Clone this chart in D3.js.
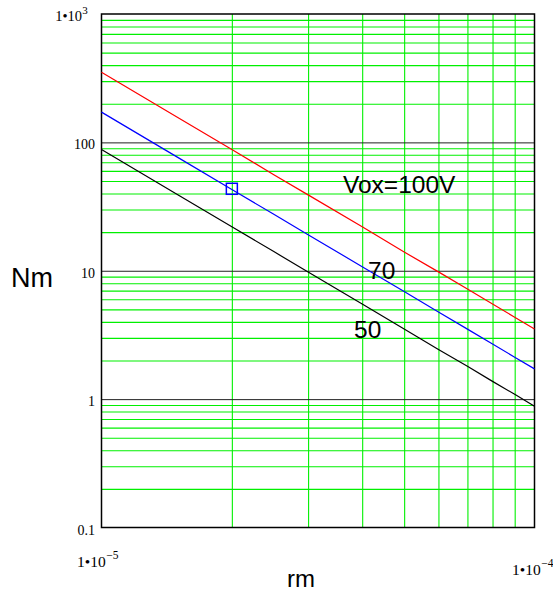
<!DOCTYPE html>
<html>
<head>
<meta charset="utf-8">
<script src="https://cdn.jsdelivr.net/npm/d3@7"></script>
<style>
  html, body { margin: 0; padding: 0; background: #fff; }
  svg { display: block; }
</style>
</head>
<body>
<svg id="chart" width="553" height="595"></svg>
<script>
// ---- data ----
const rValues = [1e-5, 1.5e-5, 2e-5, 2.5e-5, 3e-5, 4e-5, 5e-5, 6e-5, 7e-5, 8e-5, 9e-5, 1e-4];
const nm100 = [352, 156, 88, 56, 39, 22, 14, 9.8, 7.2, 5.5, 4.35, 3.52];
const nm70  = [172, 76.4, 43, 27.5, 19.1, 10.75, 6.88, 4.78, 3.51, 2.69, 2.12, 1.72];
const nm50  = [88, 39.1, 22, 14.1, 9.78, 5.5, 3.52, 2.44, 1.8, 1.375, 1.09, 0.88];
const seriesNames = ["Vox=100V", "70", "50"];
const markerPoint = [2e-5, 43.5];
const yMajorTicks = [0.1, 1, 10, 100, 1000];
const yTickLabels = ["0.1", "1", "10", "100", "1\u202210"];
const yTickSups   = ["", "", "", "", "3"];
const xMajorTicks = [1e-5, 1e-4];
const xTickLabels = ["1\u202210", "1\u202210"];
const xTickSups   = ["\u22125", "\u22124"];
const xTitle = "rm";
const yTitle = "Nm";

// ---- layout ----
const svg = d3.select("#chart");
const L = 101.5, R = 534.5, T = 14, B = 527.5;
const x = d3.scaleLog().domain([1e-5, 1e-4]).range([L, R]);
const y = d3.scaleLog().domain([0.1, 1000]).range([B, T]);

// minor ticks
const yMinor = [];
for (let d = 0.1; d < 1000; d *= 10) for (let k = 2; k <= 9; k++) yMinor.push(+(d * k).toPrecision(3));
const xMinor = [];
for (let k = 2; k <= 9; k++) xMinor.push(+(k * 1e-5).toPrecision(3));

const green = "#00f000";

// green minor horizontal grid using axis
const gy = svg.append("g").attr("transform", `translate(${L},0)`)
  .call(d3.axisLeft(y).tickValues(yMinor).tickSize(-(R - L)).tickFormat(""));
gy.select(".domain").remove();
gy.selectAll(".tick line").attr("stroke", green).attr("stroke-width", 1.1);

// green minor vertical grid
const gx = svg.append("g").attr("transform", `translate(0,${B})`)
  .call(d3.axisBottom(x).tickValues(xMinor).tickSize(-(B - T)).tickFormat(""));
gx.select(".domain").remove();
gx.selectAll(".tick line").attr("stroke", green).attr("stroke-width", 1.1);

// major horizontal grid (dark)
const gyM = svg.append("g").attr("transform", `translate(${L},0)`)
  .call(d3.axisLeft(y).tickValues(yMajorTicks.slice(1, -1)).tickSize(-(R - L)).tickFormat(""));
gyM.select(".domain").remove();
gyM.selectAll(".tick line").attr("stroke", "#222").attr("stroke-width", 1);

// border
svg.append("rect").attr("x", L).attr("y", T).attr("width", R - L).attr("height", B - T)
  .attr("fill", "none").attr("stroke", "#000").attr("stroke-width", 1.5);

// curves
const line = d3.line().x(d => x(d[0])).y(d => y(d[1]));
const series = [
  { vals: nm100, color: "#ff0000" },
  { vals: nm70, color: "#0000ff" },
  { vals: nm50, color: "#000000" }
];
series.forEach(s => {
  svg.append("path")
    .datum(rValues.map((r, i) => [r, s.vals[i]]))
    .attr("d", line).attr("fill", "none")
    .attr("stroke", s.color).attr("stroke-width", 1.2);
});

// marker
svg.append("rect")
  .attr("x", x(markerPoint[0]) - 5.5).attr("y", y(markerPoint[1]) - 5.5)
  .attr("width", 11).attr("height", 11)
  .attr("fill", "none").attr("stroke", "#0000ff").attr("stroke-width", 1.5);

// y tick labels
const serif = "'Liberation Serif', 'Times New Roman', 'DejaVu Serif', serif";
const sans = "'Liberation Sans', Arial, sans-serif";
yMajorTicks.forEach((v, i) => {
  svg.append("text")
    .attr("x", yTickSups[i] ? 82 : 95).attr("y", y(v) + 7)
    .attr("text-anchor", "end")
    .attr("font-family", serif).attr("font-size", yTickSups[i] ? 14.5 : 14).attr("fill", "#000")
    .text(yTickLabels[i]);
  if (yTickSups[i]) {
    svg.append("text").attr("x", 82.3).attr("y", y(v))
      .attr("font-family", serif).attr("font-size", 11).attr("fill", "#000")
      .text(yTickSups[i]);
  }
});

// x tick labels
const xLabelPos = [[77, 566.5], [512, 575]];
xMajorTicks.forEach((v, i) => {
  const t = svg.append("text")
    .attr("x", xLabelPos[i][0]).attr("y", xLabelPos[i][1])
    .attr("font-family", serif).attr("font-size", 15.5).attr("fill", "#000")
    .text(xTickLabels[i]);
  const w = t.node().getComputedTextLength();
  svg.append("text").attr("x", xLabelPos[i][0] + w + 0.5).attr("y", xLabelPos[i][1] - 8)
    .attr("font-family", serif).attr("font-size", 11.5).attr("fill", "#000")
    .text(xTickSups[i]);
});

// axis titles
svg.append("text").attr("x", 11).attr("y", 287).attr("font-family", sans)
  .attr("font-size", 27).attr("fill", "#000").text(yTitle);
svg.append("text").attr("x", 287).attr("y", 586.5).attr("font-family", sans)
  .attr("font-size", 24).attr("fill", "#000").text(xTitle);

// series annotations
const annPos = [[343, 193], [368, 279], [354, 338]];
seriesNames.forEach((n, i) => {
  svg.append("text").attr("x", annPos[i][0]).attr("y", annPos[i][1])
    .attr("font-family", sans).attr("font-size", 24.5).attr("fill", "#000").text(n);
});
</script>
</body>
</html>
